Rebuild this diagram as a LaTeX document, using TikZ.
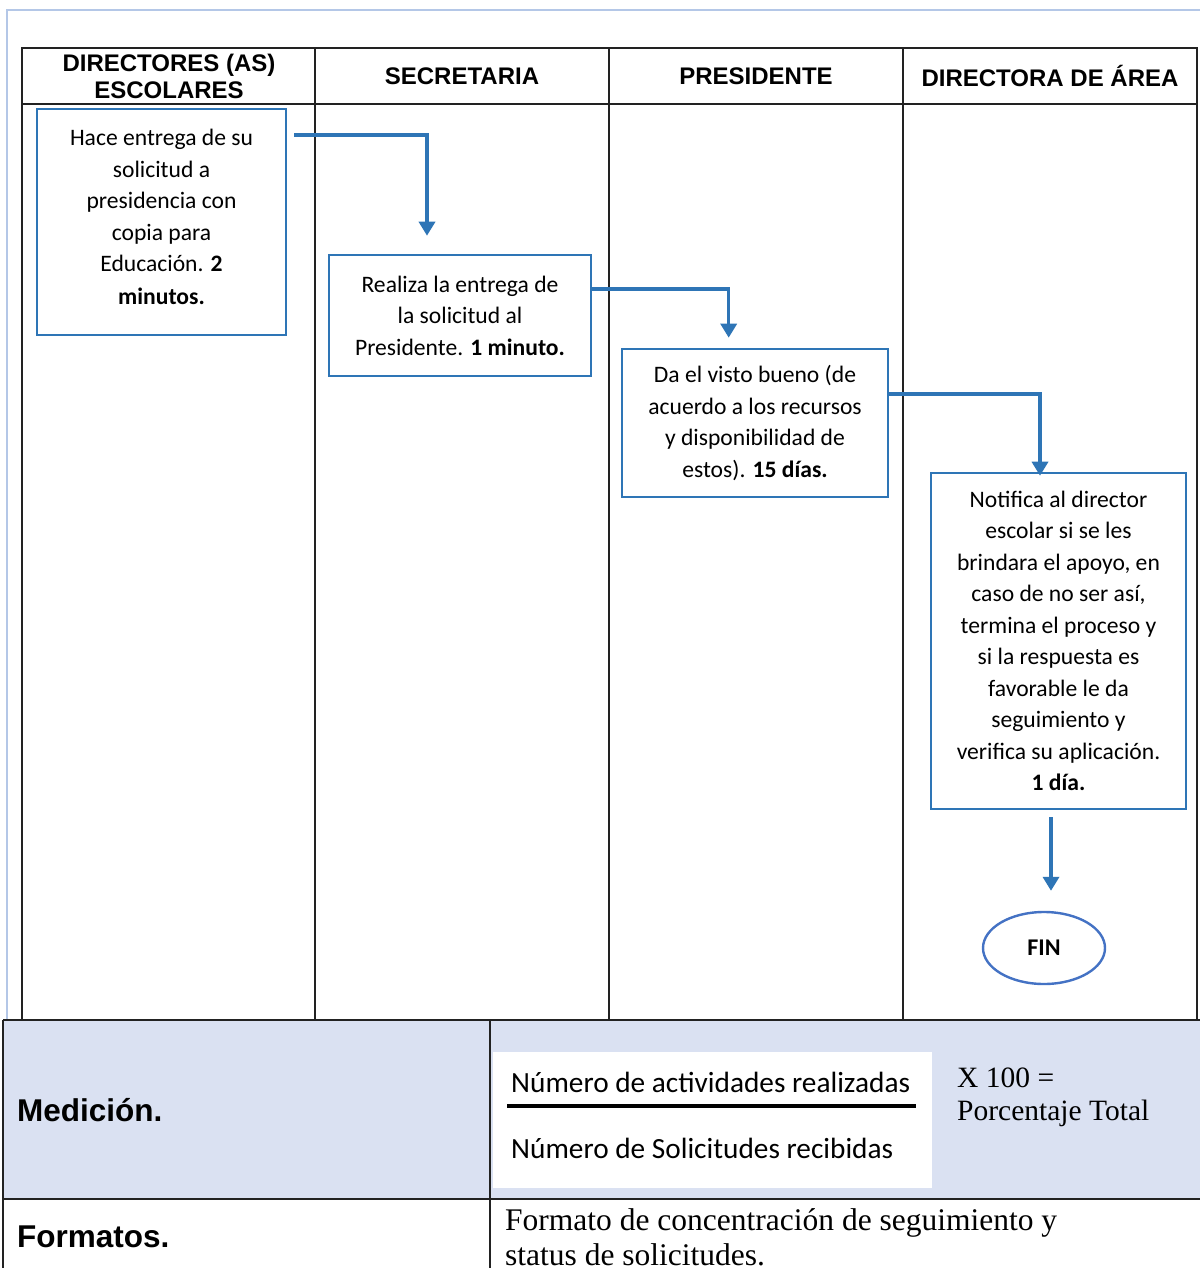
\documentclass[tikz,border=0pt]{standalone}
\usepackage{fontspec}
\setmainfont{Carlito}
\newfontfamily\arialf{Liberation Sans}
\newfontfamily\timesf{Liberation Serif}
\usetikzlibrary{arrows.meta,shapes.geometric}
\definecolor{flowblue}{HTML}{2E75B6}
\definecolor{ovalblue}{HTML}{4472C4}
\definecolor{frameblue}{HTML}{B4C7E7}
\definecolor{rowfill}{HTML}{DAE1F2}
\definecolor{rulec}{HTML}{222222}

\begin{document}
\begin{tikzpicture}[x=1pt,y=-1pt,
  lane/.style={draw=rulec,line width=1.5pt},
  act/.style={draw=flowblue,line width=2.6pt,inner sep=0pt,align=center,
    font=\fontsize{23.6}{31.5}\selectfont},
  flow/.style={draw=flowblue,line width=3.4pt,-{Triangle[width=16pt,length=14pt]}},
  head/.style={font=\arialf\bfseries\fontsize{24}{27}\selectfont,align=center,inner sep=0pt},
  rowlabel/.style={font=\arialf\bfseries\fontsize{31.5}{36}\selectfont,anchor=west,inner sep=0pt},
  serif/.style={font=\timesf\fontsize{29.5}{33}\selectfont,align=left,anchor=west,inner sep=0pt},
  ratio/.style={font=\fontsize{29.3}{33}\selectfont,anchor=west,inner sep=0pt}]

\useasboundingbox (0,0) rectangle (1200,1268);
\fill[white] (0,0) rectangle (1200,1268);

% page frame
\draw[frameblue,line width=1.5pt] (7,1020) -- (7,10) -- (1200,10);

% swimlanes
\draw[lane] (22,48) rectangle (1197,1020);
\draw[lane] (22,104) -- (1197,104);
\foreach \xx in {315,609,903} \draw[lane] (\xx,48) -- (\xx,1020);

\node[head] (h1) at (169,76) {DIRECTORES (AS)\\ESCOLARES};
\node[head] (h2) at (462,76) {SECRETARIA};
\node[head] (h3) at (756,76) {PRESIDENTE};
\node[head] (h4) at (1050,76) {DIRECTORA DE ÁREA};

% activities
\node[act,minimum width=249pt,minimum height=226pt] (b1) at (161.5,222)
  {Hace entrega de su\\solicitud a\\presidencia con\\copia para\\Educación. \textbf{2}\\[1pt]\textbf{minutos.}\\[-21pt]};
\node[act,minimum width=262pt,minimum height=121pt] (b2) at (460,315.5)
  {Realiza la entrega de\\la solicitud al\\Presidente. \textbf{1 minuto.}};
\node[act,minimum width=266pt,minimum height=148pt] (b3) at (755,423)
  {Da el visto bueno (de\\acuerdo a los recursos\\y disponibilidad de\\estos). \textbf{15 días.}};
\node[act,minimum width=255pt,minimum height=336pt] (b4) at (1058.5,641)
  {Notifica al director\\escolar si se les\\brindara el apoyo, en\\caso de no ser así,\\termina el proceso y\\si la respuesta es\\favorable le da\\seguimiento y\\verifica su aplicación.\\\textbf{1 día.}};
\node[ellipse,draw=ovalblue,line width=2.4pt,minimum width=122pt,minimum height=72pt,inner sep=0pt,
  font=\bfseries\fontsize{24}{28}\selectfont] (fin) at (1044,948) {FIN};

% connectors
\draw[flow] ([xshift=7pt,yshift=87pt]b1.east) -| ([xshift=-33pt,yshift=18pt]b2.north);
\draw[flow] ([yshift=26.5pt]b2.east) -| ([xshift=108pt,yshift=10pt]b3.north west);
\draw[flow] ([yshift=29pt]b3.east) -| ([xshift=-18.5pt,yshift=-4pt]b4.north);
\draw[flow] ([xshift=-7.5pt,yshift=-7pt]b4.south) -- ([xshift=7pt,yshift=20pt]fin.north);

% measurement table
\fill[rowfill] (3,1021) rectangle (1200,1199);
\fill[white] (493,1052) rectangle (932,1188);
\draw[rulec,line width=2.5pt] (3,1020) -- (1200,1020);
\draw[lane] (3,1199) -- (1200,1199);
\draw[lane] (490,1020) -- (490,1268);
\draw[lane] (3,1020) -- (3,1268);

\node[rowlabel] (med) at (17,1110) {Medición.};
\node[rowlabel] (fmt) at (17,1237) {Formatos.};

\node[ratio] (num) at (511,1082) {Número de actividades realizadas};
\node[ratio] (den) at (511,1148) {Número de Solicitudes recibidas};
\draw[black,line width=4pt] (507,1106) -- (916,1106);
\node[serif] (pct) at (957,1097.5) {X 100 =\\Porcentaje Total};

\node[font=\timesf\fontsize{31.5}{35}\selectfont,align=left,anchor=west,inner sep=0pt] (fmtxt) at (505,1237.5)
  {Formato de concentración de seguimiento y\\status de solicitudes.};
\end{tikzpicture}
\end{document}
